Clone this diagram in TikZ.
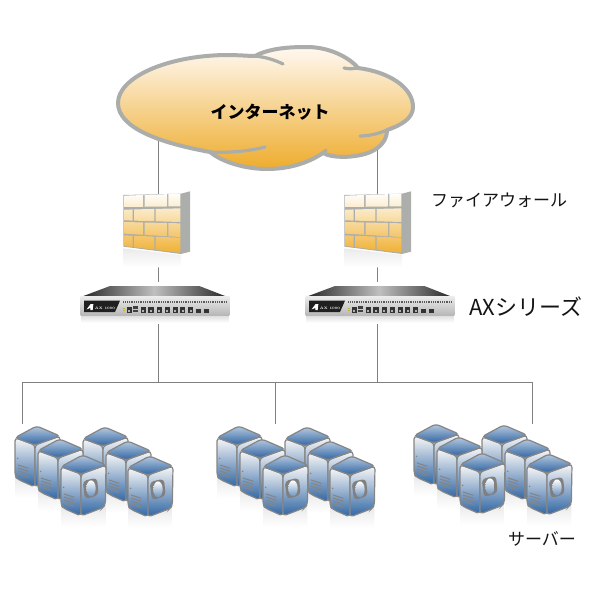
\documentclass[tikz,border=0pt]{standalone}
\usepackage{fontspec}
\newfontfamily\cjk{Noto Sans CJK JP}
\definecolor{linegray}{HTML}{808080}
\definecolor{cloudgray}{HTML}{ABADAB}
\definecolor{wallgray}{HTML}{ABAEAB}
\definecolor{srvblue}{HTML}{2F65A3}
\definecolor{srvline}{HTML}{858585}
\newcommand\fwbrick[6]{({#1},{#3+(#4-#3)*(#1-163)/167}) -- ({#2},{#3+(#4-#3)*(#2-163)/167}) -- ({#2},{#5+(#6-#5)*(#2-163)/167}) -- ({#1},{#5+(#6-#5)*(#1-163)/167}) -- cycle}
\newcommand\axport[1]{\fill[black!80] (#1-8,380) rectangle (#1+8,398); \fill[black!30] (#1-3,391) rectangle (#1+3,395);}
\tikzset{
  link/.style={draw=linegray,line width=.75pt},
  ghost/.style={inner sep=0pt,outer sep=0pt},
  labeltext/.style={inner sep=0pt,text=black!92,font=\cjk\fontsize{12.75pt}{14pt}\selectfont},
  fwpic/.pic={
    \begin{scope}[x=.25pt,y=-.25pt]
      \shade[top color=black!8,bottom color=white] (160,205) -- (333,225) -- (333,262) -- (160,262) -- cycle;
      \fill[wallgray] (160,45) -- (333,41) -- (360,34) -- (360,215) -- (333,222) -- (160,200) -- cycle;
      \begin{scope}
        \clip \fwbrick{164}{219}{47}{41}{81}{79}
              \fwbrick{224}{291}{47}{41}{81}{79}
              \fwbrick{295}{331}{47}{41}{81}{79}
              \fwbrick{163}{188}{89}{85}{121}{126}
              \fwbrick{192}{253}{89}{85}{121}{126}
              \fwbrick{257}{331}{89}{85}{121}{126}
              \fwbrick{163}{219}{126}{130}{161}{171}
              \fwbrick{224}{291}{126}{130}{161}{171}
              \fwbrick{295}{331}{126}{130}{161}{171}
              \fwbrick{163}{188}{166}{173}{198}{218}
              \fwbrick{192}{253}{166}{173}{198}{218}
              \fwbrick{257}{331}{166}{173}{198}{218};
        \shade[top color=white,bottom color={rgb,255:red,240;green,176;blue,50}] (160,38) rectangle (335,220);
      \end{scope}
    \end{scope}
  },
  apppic/.pic={
    \begin{scope}[x=.25pt,y=-.25pt]
      \shade[top color=black!14,bottom color=white] (34,405) rectangle (476,428);
      \shade[left color=black!85,right color=black!85,middle color=black!25!white] (120,318) -- (388,318) -- (470,350) -- (35,350) -- cycle;
      \shade[top color=black!8,bottom color=black!28] (32,350) -- (478,350) -- (478,405) -- (32,405) -- cycle;
      \fill[black!88] (42,362) -- (150,362) -- (135,396) -- (42,396) -- cycle;
      \fill[white] (50,388) -- (62,372) -- (70,372) -- (68,390) -- (61,390) -- (61,384) -- cycle;
      \node[ghost,text=white,font=\bfseries\fontsize{2.6pt}{3pt}\selectfont] at (105,385) {AX 1000};
      \draw[black!65,line width=1.1pt,dash pattern=on .6pt off .75pt] (160,366) -- (470,366);
      \axport{178}\axport{220}\axport{243}\axport{268}\axport{292}\axport{316}\axport{338}\axport{362}
      \fill[black!75] (190,379) rectangle (203,386);
      \fill[black!75] (190,389) rectangle (203,396);
      \fill[black!80] (377,386) rectangle (392,398);
      \fill[black!80] (401,386) rectangle (416,398);
      \fill[yellow!70!black] (160,385) rectangle (164,388);
      \fill[yellow!70!black] (160,391) rectangle (164,394);
    \end{scope}
  },
  srvunit/.pic={
    \begin{scope}[x=.25pt,y=-.25pt]
      \shade[top color=black!9,bottom color=white] (0,150) -- (60,185) -- (133,155) -- (133,215) -- (0,215) -- cycle;
      \shade[draw=srvline,line width=.9pt,rounded corners=2.5pt,top color=black!3,bottom color=srvblue] (0,35) -- (60,57) -- (60,183) -- (8,160) -- (0,150) -- cycle;
      \shade[draw=srvline,line width=.9pt,rounded corners=2.5pt,top color=black!3,bottom color=srvblue] (60,57) -- (135,30) -- (133,150) -- (125,158) -- (60,183) -- cycle;
      \shade[draw=srvline,line width=.9pt,rounded corners=2.5pt,top color=srvblue!35,bottom color=srvblue] (0,35) -- (65,0) -- (135,30) -- (60,57) -- cycle;
      \fill[srvline] (8,97) circle[radius=2.5];
      \foreach \yy in {117,126,135,144}{
        \draw[srvline,line width=.8pt] (9,\yy) -- (40,\yy+10);
      }
    \end{scope}
  },
  srvoval/.pic={
    \begin{scope}[x=.25pt,y=-.25pt]
      \fill[black!50,rounded corners=3pt] (65,78) -- (108,68) -- (113,120) -- (72,133) -- cycle;
      \shade[top color=white,bottom color=srvblue!70] (90,100) ellipse[x radius=14,y radius=24];
    \end{scope}
  },
  srvgroup/.pic={
    \pic at (15,16) {srvunit};
    \pic at (83,17) {srvunit};
    \pic at (38,29) {srvunit};
    \pic at (106,31) {srvunit};
    \pic at (61,45) {srvunit};
    \pic at (61,45) {srvoval};
    \pic at (128,46) {srvunit};
    \pic at (128,46) {srvoval};
  }
}
\begin{document}
\begin{tikzpicture}[x=.75pt,y=-.75pt]
\useasboundingbox (0,0) rectangle (600,600);
% anchors
\node[ghost,minimum width=60pt,minimum height=48pt] (fwa) at (158,224) {};
\node[ghost,minimum width=60pt,minimum height=48pt] (fwb) at (377,224) {};
\node[ghost,minimum width=100pt,minimum height=22pt] (appa) at (158,303) {};
\node[ghost,minimum width=100pt,minimum height=22pt] (appb) at (377,303) {};
\coordinate (cloudl) at (158,141);
\coordinate (cloudr) at (377,150);
\coordinate (fwatop) at (158,194);
\coordinate (fwbtop) at (377,194);
\coordinate (fwabot) at (158,256);
\coordinate (fwbbot) at (377,256);
\coordinate (appatop) at (158,282);
\coordinate (appbtop) at (377,282);
\coordinate (appabot) at (158,324);
\coordinate (appbbot) at (377,324);
\coordinate (busa) at (158,382);
\coordinate (busb) at (377,382);
\coordinate (busl) at (22,382);
\coordinate (busm) at (275,382);
\coordinate (busr) at (532,382);
\coordinate (srva) at (22,424);
\coordinate (srvb) at (275,424);
\coordinate (srvc) at (532,424);
% connectors
\draw[link] (cloudl) -- (fwatop);
\draw[link] (cloudr) -- (fwbtop);
\draw[link] (fwabot) -- (appatop);
\draw[link] (fwbbot) -- (appbtop);
\draw[link] (appabot) -- (busa);
\draw[link] (appbbot) -- (busb);
\draw[link] (busl) -- (busr);
\draw[link] (busl) -- (srva);
\draw[link] (busm) -- (srvb);
\draw[link] (busr) -- (srvc);
% cloud
\shade[top color=white!95!orange,bottom color={rgb,255:red,238;green,172;blue,44},draw=cloudgray,line width=3pt,line join=round]
  (118,103) .. controls (118,78) and (165,56) .. (225,55)
  .. controls (240,55) and (248,56) .. (255,56)
  .. controls (270,48) and (290,47) .. (307,47)
  .. controls (330,47) and (350,58) .. (358,68)
  .. controls (390,72) and (413,88) .. (413,107)
  .. controls (413,118) and (402,125) .. (387,130)
  .. controls (387,142) and (378,150) .. (365,154)
  .. controls (350,158) and (332,158) .. (323,153)
  .. controls (305,165) and (285,169) .. (267,169)
  .. controls (245,169) and (222,162) .. (210,152)
  .. controls (160,143) and (118,128) .. (118,103) -- cycle;
\draw[cloudgray,line width=2.4pt,line cap=round] (255,56) .. controls (265,57) and (275,60) .. (283,64);
\draw[cloudgray,line width=2.4pt,line cap=round] (358,68) .. controls (352,69) and (348,69) .. (344,68);
\draw[cloudgray,line width=2.4pt,line cap=round] (387,130) .. controls (378,134) and (368,136) .. (360,136);
\draw[cloudgray,line width=2.4pt,line cap=round] (210,152) .. controls (230,153) and (250,151) .. (265,147);
\draw[cloudgray,line width=2.4pt,line cap=round] (323,153) -- (326,150);
\node[labeltext,text=black,font=\cjk\bfseries\fontsize{12.75pt}{14pt}\selectfont] (inet) at (270,112) {インターネット};
% devices
\pic at (70,180) {fwpic};
\pic at (291,180) {fwpic};
\pic at (70,180) {apppic};
\pic at (295,180) {apppic};
\pic at (0,410) {srvgroup};
\pic at (202,410) {srvgroup};
\pic at (399,408) {srvgroup};
% labels
\node[labeltext] (lbfw) at (499,200) {ファイアウォール};
\node[labeltext,font=\cjk\fontsize{16.5pt}{18pt}\selectfont] (lbax) at (526,307) {AXシリーズ};
\node[labeltext] (lbsv) at (542,539) {サーバー};
\end{tikzpicture}
\end{document}
